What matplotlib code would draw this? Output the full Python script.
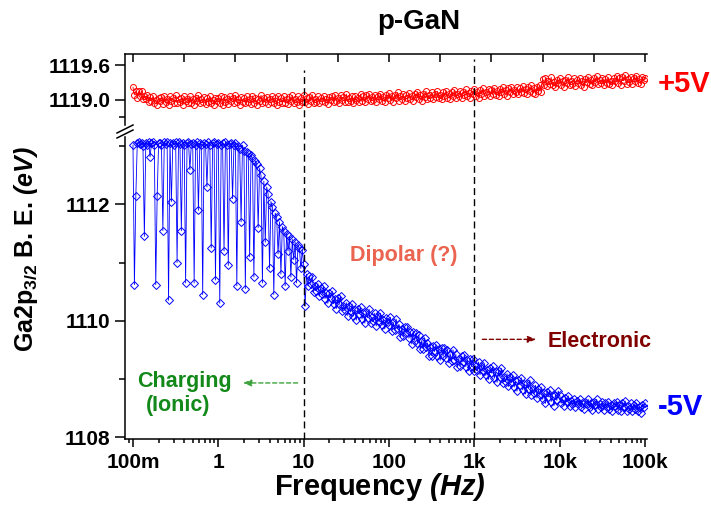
import numpy as np
import matplotlib
import matplotlib.pyplot as plt
from matplotlib.lines import Line2D
from matplotlib.ticker import FixedLocator, LogLocator, NullFormatter, FixedFormatter
import matplotlib.transforms as mtransforms

plt.rcParams['font.family'] = ['Liberation Sans', 'DejaVu Sans']
plt.rcParams['font.weight'] = 'bold'
plt.rcParams['mathtext.fontset'] = 'custom'
plt.rcParams['mathtext.rm'] = 'Liberation Sans:bold'
plt.rcParams['mathtext.bf'] = 'Liberation Sans:bold'
plt.rcParams['mathtext.it'] = 'Liberation Sans:italic:bold'
plt.rcParams['mathtext.bfit'] = 'Liberation Sans:italic:bold'

# frequency sweep, 60 points per decade from 100 mHz to 100 kHz
freq = np.logspace(-1, 5, 361)

# Ga2p3/2 binding energy at +5V (eV), 20 values per row
be_plus5 = [
    1119.22, 1119.09, 1119.15, 1119.04, 1119.15, 1119.07, 1119.16, 1119.01, 1119.07, 1119.01,
    1119.09, 1118.96, 1119.05, 1118.98, 1119.06, 1118.95, 1119.00, 1118.92, 1119.04, 1118.99,
    1119.05, 1118.93, 1119.07, 1118.96, 1119.02, 1118.91, 1119.06, 1118.98, 1119.03, 1118.94,
    1119.08, 1118.95, 1119.01, 1118.97, 1119.04, 1118.92, 1119.06, 1118.99, 1119.02, 1118.94,
    1119.07, 1118.95, 1119.02, 1118.92, 1119.04, 1118.98, 1119.08, 1118.94, 1119.01, 1118.96,
    1119.05, 1118.93, 1119.03, 1118.97, 1119.06, 1118.95, 1119.00, 1118.92, 1119.04, 1118.99,
    1119.03, 1118.94, 1119.06, 1118.91, 1119.05, 1118.97, 1119.02, 1118.93, 1119.07, 1118.98,
    1119.04, 1118.95, 1119.08, 1118.96, 1119.01, 1118.92, 1119.05, 1118.97, 1119.03, 1118.94,
    1119.06, 1118.96, 1119.01, 1118.93, 1119.07, 1118.95, 1119.04, 1118.91, 1119.02, 1118.98,
    1119.08, 1118.94, 1119.03, 1118.96, 1119.05, 1118.93, 1119.02, 1118.97, 1119.06, 1118.95,
    1119.04, 1118.92, 1119.07, 1118.97, 1119.03, 1118.94, 1119.06, 1118.95, 1119.01, 1118.93,
    1119.05, 1118.98, 1119.08, 1118.94, 1119.02, 1118.96, 1119.06, 1118.92, 1119.03, 1118.97,
    1119.08, 1118.96, 1119.03, 1118.93, 1119.05, 1118.99, 1119.09, 1118.95, 1119.02, 1118.97,
    1119.06, 1118.94, 1119.04, 1118.98, 1119.07, 1118.96, 1119.01, 1118.93, 1119.05, 1119.00,
    1119.07, 1118.96, 1119.09, 1118.98, 1119.04, 1118.94, 1119.08, 1119.00, 1119.05, 1118.96,
    1119.10, 1118.97, 1119.04, 1118.99, 1119.07, 1118.95, 1119.06, 1119.00, 1119.04, 1118.97,
    1119.10, 1118.98, 1119.06, 1118.96, 1119.08, 1119.01, 1119.11, 1118.98, 1119.05, 1119.00,
    1119.09, 1118.97, 1119.07, 1119.01, 1119.11, 1118.99, 1119.05, 1118.97, 1119.09, 1119.03,
    1119.12, 1119.00, 1119.07, 1118.97, 1119.09, 1119.03, 1119.13, 1118.99, 1119.06, 1119.02,
    1119.11, 1118.98, 1119.09, 1119.03, 1119.12, 1119.01, 1119.07, 1118.99, 1119.11, 1119.05,
    1119.14, 1119.02, 1119.09, 1118.99, 1119.11, 1119.05, 1119.15, 1119.01, 1119.08, 1119.04,
    1119.13, 1119.01, 1119.11, 1119.05, 1119.15, 1119.03, 1119.09, 1119.01, 1119.13, 1119.07,
    1119.16, 1119.04, 1119.11, 1119.01, 1119.14, 1119.07, 1119.17, 1119.04, 1119.11, 1119.07,
    1119.16, 1119.04, 1119.14, 1119.08, 1119.18, 1119.06, 1119.12, 1119.04, 1119.16, 1119.10,
    1119.19, 1119.07, 1119.14, 1119.04, 1119.17, 1119.10, 1119.20, 1119.07, 1119.14, 1119.10,
    1119.19, 1119.07, 1119.17, 1119.11, 1119.21, 1119.09, 1119.15, 1119.07, 1119.19, 1119.13,
    1119.22, 1119.10, 1119.17, 1119.07, 1119.20, 1119.13, 1119.23, 1119.10, 1119.17, 1119.13,
    1119.22, 1119.10, 1119.20, 1119.14, 1119.24, 1119.12, 1119.18, 1119.10, 1119.22, 1119.16,
    1119.25, 1119.12, 1119.20, 1119.10, 1119.23, 1119.15, 1119.26, 1119.13, 1119.36, 1119.26,
    1119.38, 1119.24, 1119.33, 1119.27, 1119.39, 1119.25, 1119.31, 1119.22, 1119.35, 1119.29,
    1119.38, 1119.26, 1119.33, 1119.23, 1119.35, 1119.30, 1119.39, 1119.25, 1119.32, 1119.28,
    1119.37, 1119.24, 1119.35, 1119.29, 1119.38, 1119.26, 1119.32, 1119.23, 1119.36, 1119.31,
    1119.40, 1119.28, 1119.35, 1119.25, 1119.37, 1119.31, 1119.41, 1119.27, 1119.34, 1119.29,
    1119.38, 1119.26, 1119.36, 1119.30, 1119.39, 1119.28, 1119.33, 1119.25, 1119.37, 1119.32,
    1119.41, 1119.29, 1119.37, 1119.26, 1119.39, 1119.33, 1119.43, 1119.28, 1119.36, 1119.31,
    1119.40, 1119.28, 1119.38, 1119.32, 1119.42, 1119.30, 1119.36, 1119.27, 1119.40, 1119.34,
    1119.38,
]

# Ga2p3/2 binding energy at -5V (eV), 20 values per row
be_minus5 = [
    1113.02, 1110.62, 1112.15, 1113.05, 1113.08, 1113.04, 1113.06, 1113.01, 1111.45, 1113.06,
    1113.03, 1113.07, 1112.82, 1113.05, 1113.08, 1113.02, 1110.62, 1112.15, 1113.05, 1113.06,
    1113.03, 1111.55, 1113.08, 1113.04, 1113.07, 1110.35, 1113.05, 1112.05, 1113.06, 1113.03,
    1113.08, 1111.00, 1113.07, 1113.04, 1111.55, 1113.06, 1113.02, 1110.65, 1113.05, 1113.08,
    1112.60, 1113.04, 1113.06, 1110.65, 1113.03, 1113.07, 1111.90, 1113.05, 1113.02, 1110.45,
    1113.06, 1113.04, 1112.30, 1113.07, 1113.03, 1111.25, 1113.05, 1113.08, 1110.70, 1113.04,
    1113.06, 1110.30, 1113.03, 1113.05, 1111.20, 1113.07, 1113.02, 1110.95, 1113.04, 1113.06,
    1112.10, 1113.03, 1113.05, 1110.60, 1113.00, 1112.95, 1111.70, 1113.02, 1112.92, 1110.55,
    1112.90, 1112.88, 1111.10, 1112.85, 1112.80, 1110.75, 1112.75, 1112.70, 1111.60, 1112.62,
    1112.50, 1110.65, 1112.40, 1111.35, 1112.30, 1112.18, 1110.90, 1112.05, 1111.95, 1110.45,
    1111.85, 1111.78, 1111.15, 1111.70, 1110.80, 1111.62, 1111.55, 1110.60, 1111.50, 1111.20,
    1111.45, 1110.75, 1111.40, 1111.05, 1111.35, 1110.65, 1111.30, 1111.25, 1110.90, 1111.22,
    1110.97, 1110.25, 1110.80, 1110.60, 1110.77, 1110.64, 1110.76, 1110.50, 1110.60, 1110.51,
    1110.64, 1110.42, 1110.57, 1110.46, 1110.60, 1110.38, 1110.47, 1110.30, 1110.48, 1110.39,
    1110.51, 1110.29, 1110.38, 1110.21, 1110.39, 1110.28, 1110.43, 1110.17, 1110.26, 1110.18,
    1110.31, 1110.09, 1110.25, 1110.15, 1110.29, 1110.08, 1110.18, 1110.01, 1110.20, 1110.12,
    1110.24, 1110.03, 1110.13, 1109.96, 1110.15, 1110.05, 1110.20, 1109.96, 1110.06, 1109.99,
    1110.13, 1109.91, 1110.08, 1109.98, 1110.13, 1109.92, 1110.02, 1109.86, 1110.05, 1109.98,
    1109.93, 1110.06, 1109.83, 1109.97, 1109.84, 1110.03, 1109.86, 1109.94, 1109.72, 1109.86,
    1109.73, 1109.89, 1109.79, 1109.90, 1109.70, 1109.80, 1109.60, 1109.81, 1109.66, 1109.79,
    1109.62, 1109.75, 1109.51, 1109.66, 1109.52, 1109.71, 1109.54, 1109.62, 1109.39, 1109.54,
    1109.40, 1109.57, 1109.47, 1109.59, 1109.40, 1109.51, 1109.32, 1109.53, 1109.39, 1109.53,
    1109.36, 1109.50, 1109.28, 1109.43, 1109.30, 1109.50, 1109.33, 1109.42, 1109.20, 1109.35,
    1109.22, 1109.39, 1109.29, 1109.41, 1109.21, 1109.33, 1109.14, 1109.35, 1109.21, 1109.35,
    1109.13, 1109.23, 1109.15, 1109.29, 1109.07, 1109.23, 1109.13, 1109.27, 1109.06, 1109.16,
    1108.99, 1109.18, 1109.10, 1109.22, 1109.01, 1109.11, 1108.94, 1109.13, 1109.03, 1109.18,
    1108.93, 1109.03, 1108.95, 1109.09, 1108.87, 1109.03, 1108.93, 1109.07, 1108.86, 1108.96,
    1108.79, 1108.98, 1108.90, 1109.02, 1108.81, 1108.91, 1108.74, 1108.93, 1108.83, 1108.98,
    1108.73, 1108.83, 1108.75, 1108.89, 1108.67, 1108.82, 1108.72, 1108.86, 1108.65, 1108.75,
    1108.58, 1108.77, 1108.69, 1108.81, 1108.61, 1108.71, 1108.54, 1108.73, 1108.63, 1108.79,
    1108.72, 1108.58, 1108.65, 1108.54, 1108.67, 1108.61, 1108.71, 1108.54, 1108.62, 1108.56,
    1108.66, 1108.52, 1108.62, 1108.56, 1108.65, 1108.52, 1108.59, 1108.49, 1108.61, 1108.57,
    1108.65, 1108.51, 1108.58, 1108.47, 1108.61, 1108.55, 1108.65, 1108.48, 1108.56, 1108.51,
    1108.61, 1108.47, 1108.58, 1108.51, 1108.61, 1108.48, 1108.55, 1108.45, 1108.58, 1108.54,
    1108.61, 1108.47, 1108.55, 1108.44, 1108.58, 1108.52, 1108.62, 1108.45, 1108.53, 1108.48,
    1108.58, 1108.44, 1108.55, 1108.49, 1108.58, 1108.45, 1108.52, 1108.42, 1108.55, 1108.51,
    1108.59,
]

x_ticks = [0.1, 1, 10, 100, 1e3, 1e4, 1e5]
x_ticklabels = ['100m', '1', '10', '100', '1k', '10k', '100k']
top_yticks = [1119.0, 1119.6]
bot_yticks = [1108, 1110, 1112]
region_lines = [10, 1000]

W, H = 711, 505
fig = plt.figure(figsize=(W / 100, H / 100), dpi=100)


def px(x, y):
    return x / W, 1 - y / H


ax_top = fig.add_axes([125 / W, 1 - 125 / H, 522 / W, 71 / H])
ax_bot = fig.add_axes([125 / W, 1 - 439 / H, 522 / W, 302 / H])

ax_top.plot(freq, be_plus5, color='red', lw=0.6, marker='o', ms=4.3, mfc='none', mew=0.7)
ax_bot.plot(freq, be_minus5, color='blue', lw=0.6, marker='D', ms=4.0, mfc='none', mew=0.7)

for ax in (ax_top, ax_bot):
    ax.set_xscale('log')
    ax.set_xlim(0.0806, 1.055e5)
    ax.spines['right'].set_visible(False)
    for s in ax.spines.values():
        s.set_linewidth(1.1)

ax_top.set_ylim(1118.57, 1119.79)
ax_bot.set_ylim(1107.966, 1113.16)

# top panel: only top axis line with inward ticks, and left axis
ax_top.spines['bottom'].set_visible(False)
ax_top.yaxis.set_major_locator(FixedLocator(top_yticks))
ax_top.yaxis.set_minor_locator(FixedLocator([1118.7]))
ax_top.set_yticklabels(['%.1f' % v for v in top_yticks])
ax_top.xaxis.set_major_locator(FixedLocator([10 ** (-1 + 0.6 * k) for k in range(11)]))
ax_top.xaxis.set_minor_locator(FixedLocator([]))
ax_top.xaxis.set_major_formatter(NullFormatter())
ax_top.tick_params(axis='x', which='major', direction='in', length=6, width=1.1,
                   bottom=False, top=True, labelbottom=False)
ax_top.tick_params(axis='y', which='major', direction='out', length=7, width=1.1, labelsize=15)
ax_top.tick_params(axis='y', which='minor', direction='out', length=4, width=1.1)

# bottom panel
ax_bot.spines['top'].set_visible(False)
ax_bot.xaxis.set_major_locator(FixedLocator(x_ticks))
ax_bot.xaxis.set_major_formatter(FixedFormatter(x_ticklabels))
ax_bot.xaxis.set_minor_locator(LogLocator(base=10, subs=np.arange(2, 10)))
ax_bot.xaxis.set_minor_formatter(NullFormatter())
ax_bot.yaxis.set_major_locator(FixedLocator(bot_yticks))
ax_bot.yaxis.set_minor_locator(FixedLocator([1109, 1111, 1113]))
ax_bot.tick_params(axis='both', which='major', direction='out', length=7, width=1.1, labelsize=15)
ax_bot.tick_params(axis='both', which='minor', direction='out', length=4, width=1.1)
ax_bot.tick_params(axis='x', which='major', length=6, pad=4)
ax_bot.tick_params(axis='x', which='minor', length=3)

# axis break marks on the left spine
for dy in (0, 5):
    x1, y1 = px(117, 133 + dy)
    x2, y2 = px(133, 125 + dy)
    fig.add_artist(Line2D([x1, x2], [y1, y2], color='black', lw=1.1))

# dashed region boundaries through both panels
blend = mtransforms.blended_transform_factory(ax_bot.transData, fig.transFigure)
for f, ytop in zip(region_lines, [70, 59]):
    fig.add_artist(Line2D([f, f], [1 - 439 / H, 1 - ytop / H], transform=blend,
                          color='black', lw=1, ls=(0, (5, 3))))

# annotations
ax_bot.text(148, 1111.13, 'Dipolar (?)', color='#EA6450', fontsize=15.5, ha='center', va='center')
ax_bot.text(7145, 1109.65, 'Electronic', color='#800000', fontsize=15.5, ha='left', va='center')
ax_bot.text(0.405, 1108.96, 'Charging', color='#13891A', fontsize=15.5, ha='center', va='center')
ax_bot.text(0.336, 1108.55, '(Ionic)', color='#13891A', fontsize=15.5, ha='center', va='center')
ax_bot.annotate('', xy=(1.94, 1108.93), xytext=(8.5, 1108.93),
                arrowprops=dict(arrowstyle='-|>,head_length=0.5,head_width=0.2', color='#3DA43D',
                                lw=1, ls=(0, (3, 2)), shrinkA=0, shrinkB=0))
ax_bot.annotate('', xy=(5306, 1109.68), xytext=(1242, 1109.68),
                arrowprops=dict(arrowstyle='-|>,head_length=0.5,head_width=0.2', color='#800000',
                                lw=1, ls=(0, (3, 2)), shrinkA=0, shrinkB=0))

fig.text(*px(658, 84), '+5V', color='red', fontsize=21, ha='left', va='center')
fig.text(*px(658, 407), '-5V', color='blue', fontsize=21, ha='left', va='center')
fig.text(*px(419, 22), 'p-GaN', fontsize=20, ha='center', va='center')
fig.text(*px(380, 487), r'Frequency $\mathbfit{(Hz)}$', fontsize=21, ha='center', va='center')
fig.text(*px(26, 249), r'Ga2p$_{\mathbf{3/2}}$ B. E. $\mathbfit{(eV)}$', fontsize=18,
         rotation=90, ha='center', va='center')

fig.savefig('out.png', dpi=100)
